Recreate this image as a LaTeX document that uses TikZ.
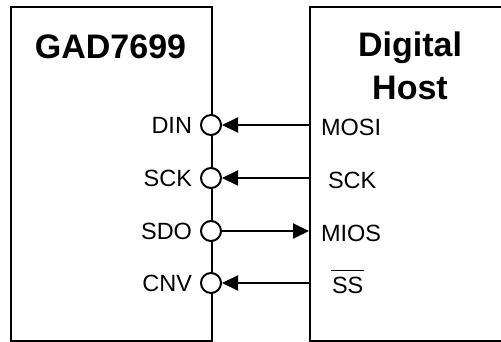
\documentclass[tikz,border=0pt]{standalone}
\usepackage{fontspec}
\setmainfont{Liberation Sans}
\usetikzlibrary{arrows.meta}

\begin{document}
\begin{tikzpicture}[x=1pt,y=-1pt,line width=2pt,
	pin/.style={draw,circle,fill=white,inner sep=0pt,minimum size=20pt},
	lbl/.style={inner sep=0pt,font=\fontsize{23.5}{28}\selectfont},
	sig/.style={-{Triangle[length=16pt,width=15pt]}}]
	\useasboundingbox (0,0) rectangle (501,342);
	\clip (0,0) rectangle (501,342);
	\node[draw,anchor=north west,inner sep=0pt,minimum width=201pt,minimum height=334pt] (gad) at (10,6) {};
	\node[draw,anchor=north west,inner sep=0pt,minimum width=202pt,minimum height=334pt] (host) at (309,6) {};
	\node[font=\fontsize{34}{40}\selectfont\bfseries] (gadname) at (110.5,47) {GAD7699};
	\node[font=\fontsize{34}{43}\selectfont\bfseries,align=center] (hostname) at (410,66) {Digital\\Host};
	\foreach \name/\txt/\y in {din/DIN/125,sck/SCK/178,sdo/SDO/231,cnv/CNV/283}{
		\node[pin] (\name) at (211,\y) {};
		\node[lbl,anchor=east] (\name lbl) at ([xshift=-7pt]\name.west) {\txt};
	}
	\node[lbl,anchor=west] (mosi) at (320,127) {MOSI};
	\node[lbl,anchor=west] (hsck) at (327,180) {SCK};
	\node[lbl,anchor=west] (mios) at (320,233) {MIOS};
	\node[lbl,anchor=west] (ss) at (331,285) {SS};
	\draw[line width=1.5pt] ([yshift=5pt]ss.north west) -- ([yshift=5pt]ss.north east);
	\draw[sig] (host.west |- din) -- (din.east);
	\draw[sig] (host.west |- sck) -- (sck.east);
	\draw[sig] (sdo.east) -- (host.west |- sdo);
	\draw[sig] (host.west |- cnv) -- (cnv.east);
\end{tikzpicture}
\end{document}
